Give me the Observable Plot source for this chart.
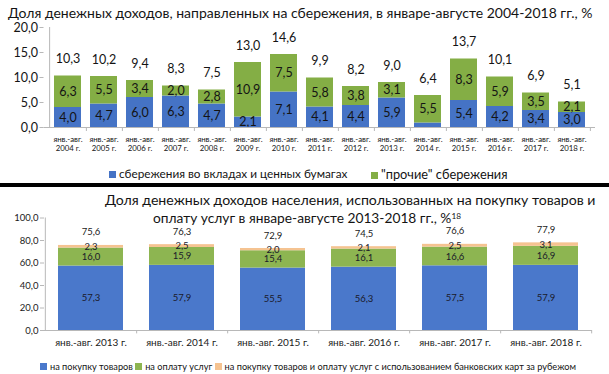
<!DOCTYPE html>
<html><head><meta charset="utf-8">
<script src="https://cdn.jsdelivr.net/npm/d3@7"></script>
<script src="https://cdn.jsdelivr.net/npm/@observablehq/plot@0.6"></script>
<style>
body{margin:0;background:#fff;}
#root{position:relative;width:609px;height:374px;overflow:hidden;font-family:Lato,"Open Sans",sans-serif;color:#141414;}
.abs{position:absolute;white-space:nowrap;line-height:16px;}
.sw{display:inline-block;width:7px;height:7px;margin-right:3px;vertical-align:0px;}
svg{position:absolute;overflow:visible;}
</style></head><body><div id="root"></div>
<script>
// ---- Panel 1 data ----
const years1 = [2004,2005,2006,2007,2008,2009,2010,2011,2012,2013,2014,2015,2016,2017,2018];
const deposits = [4.0,4.7,6.0,6.3,4.7,2.1,7.1,4.1,4.4,5.9,0.9,5.4,4.2,3.4,3.0];
const other    = [6.3,5.5,3.4,2.0,2.8,10.9,7.5,5.8,3.8,3.1,5.5,8.3,5.9,3.5,2.1];
const totals1  = [10.3,10.2,9.4,8.3,7.5,13.0,14.6,9.9,8.2,9.0,6.4,13.7,10.1,6.9,5.1];
const series1  = ["сбережения во вкладах и ценных бумагах", "\"прочие\" сбережения"];
const yTicks1  = [0,5,10,15,20];
const title1   = "Доля денежных доходов, направленных на сбережения, в январе-августе 2004-2018 гг., %";

// ---- Panel 2 data ----
const years2   = [2013,2014,2015,2016,2017,2018];
const goods    = [57.3,57.9,55.5,56.3,57.5,57.9];
const services = [16.0,15.9,15.4,16.1,16.6,16.9];
const abroad   = [2.3,2.5,2.0,2.1,2.5,3.1];
const totals2  = [75.6,76.3,72.9,74.5,76.6,77.9];
const series2  = ["на покупку товаров","на оплату услуг","на покупку товаров и оплату услуг с использованием банковских карт за рубежом"];
const yTicks2  = [0,20,40,60,80,100];
const title2a  = "Доля денежных доходов населения, использованных на покупку товаров и";
const title2b  = "оплату услуг в январе-августе 2013-2018 гг., %";
const title2sup = "18";

const FONT = 'Lato, "Open Sans", sans-serif';
const BLUE1 = "#4573c5", GREEN1 = "#84ae45";
const BLUE2 = "#4a78cb", GREEN2 = "#8db551", PEACH = "#f5c391";
const fmt = v => v.toFixed(1).replace(".", ",");

const root = document.getElementById("root");
// place a text line with its vertical centre at cy, scaled to span the target width
function addText(html, left, cy, size, targetW) {
  const d = document.createElement("div");
  d.className = "abs";
  d.style.cssText = `left:${left}px;top:${cy-8}px;font-size:${size}px;`;
  d.innerHTML = html;
  root.appendChild(d);
  if (targetW) {
    const w = d.getBoundingClientRect().width;
    d.style.fontSize = (size * targetW / w) + "px";
  }
  return d;
}

// ---- Panel 1 ----
const rows1 = years1.flatMap((y,i)=>[
  {year:y, s:series1[0], v:deposits[i]},
  {year:y, s:series1[1], v:other[i]}
]);
const step1 = (595-43.5)/15;
const p1 = Plot.plot({
  width: 609, height: 142,
  marginTop: 7, marginBottom: 35, marginLeft: 43.5, marginRight: 14,
  style: {fontFamily: FONT, background: "transparent", color: "#141414"},
  x: {type: "band", domain: years1, paddingInner: 0.24, paddingOuter: 0.12},
  y: {domain: [0,20]},
  color: {domain: series1, range: [BLUE1, GREEN1]},
  marks: [
    Plot.barY(rows1, {x: "year", y: "v", fill: "s"}),
    Plot.text(rows1, Plot.stackY({x: "year", y: "v", z: "s", text: d => d.v >= 1 ? fmt(d.v) : "", fontSize: 12.5, fill: "#141414"})),
    Plot.text(years1, {x: d => d, y: (d,i) => totals1[i], text: (d,i) => fmt(totals1[i]), dy: -17, fontSize: 12.5, fill: "#141414"}),
    Plot.ruleY([0], {stroke: "#b8b8b8"}),
    Plot.ruleX([years1[0]], {y1: 0, y2: 20, dx: -step1/2, stroke: "#b8b8b8"}),
    Plot.ruleX(years1, {y1: 0, y2: -0.8, dx: step1/2, stroke: "#b8b8b8"}),
    Plot.axisY({ticks: yTicks1, tickFormat: fmt, tickSize: 4, tickPadding: 2, fontSize: 12.5, stroke: "#b8b8b8", label: null}),
    Plot.axisX({tickSize: 0, tickPadding: 8, fontSize: 7.8, lineHeight: 1.15, tickFormat: d => `янв.-авг.\n${d} г.`, label: null})
  ]
});
p1.style.left = "0px"; p1.style.top = "20px";
root.appendChild(p1);

addText(title1, 8, 13, 15, 585);
addText(`<span class="sw" style="background:${BLUE1}"></span>${series1[0]}`, 109, 174, 12.5, 238);
addText(`<span class="sw" style="background:${GREEN1}"></span>${series1[1]}`, 371, 174, 12.5, 137);

const bar = document.createElement("div");
bar.style.cssText = "position:absolute;left:0;top:183px;width:609px;height:4px;background:#000;";
root.appendChild(bar);

// ---- Panel 2 ----
const rows2 = years2.flatMap((y,i)=>[
  {year:y, s:series2[0], v:goods[i]},
  {year:y, s:series2[1], v:services[i]},
  {year:y, s:series2[2], v:abroad[i]}
]);
const step2 = (592-44)/6;
const p2 = Plot.plot({
  width: 609, height: 163,
  marginTop: 27.5, marginBottom: 23, marginLeft: 44, marginRight: 17,
  style: {fontFamily: FONT, background: "transparent", color: "#1a1a1a"},
  x: {type: "band", domain: years2, paddingInner: 0.29, paddingOuter: 0.145},
  y: {domain: [0,100]},
  color: {domain: series2, range: [BLUE2, GREEN2, PEACH]},
  marks: [
    Plot.barY(rows2, {x: "year", y: "v", fill: "s"}),
    Plot.text(rows2, Plot.stackY({x: "year", y: "v", z: "s", text: d => fmt(d.v), fontSize: 9.5, fill: "#1a1a2a"})),
    Plot.text(years2, {x: d => d, y: (d,i) => totals2[i], text: (d,i) => fmt(totals2[i]), dy: -13, fontSize: 9.5, fill: "#1a1a1a"}),
    Plot.ruleY([0], {stroke: "#b8b8b8"}),
    Plot.ruleX([years2[0]], {y1: 0, y2: 100, dx: -step2/2, stroke: "#b8b8b8"}),
    Plot.ruleX(years2, {y1: 0, y2: -3, dx: step2/2, stroke: "#b8b8b8"}),
    Plot.axisY({ticks: yTicks2, tickFormat: fmt, tickSize: 4, tickPadding: 2, fontSize: 9.5, stroke: "#b8b8b8", label: null}),
    Plot.axisX({tickSize: 0, tickPadding: 8, fontSize: 10, tickFormat: d => `янв.-авг. ${d} г.`, label: null})
  ]
});
p2.style.left = "0px"; p2.style.top = "190px";
root.appendChild(p2);

addText(title2a, 105, 200, 15.5, 491);
addText(`${title2b}<sup style="font-size:0.6em;vertical-align:0.45em;line-height:0">${title2sup}</sup>`, 153, 218, 15.5, 308);
addText(`<span class="sw" style="background:${BLUE2}"></span>${series2[0]} <span class="sw" style="background:${GREEN2}"></span>${series2[1]} <span class="sw" style="background:${PEACH}"></span>${series2[2]}`, 40, 367, 10.5, 533);
</script></body></html>
